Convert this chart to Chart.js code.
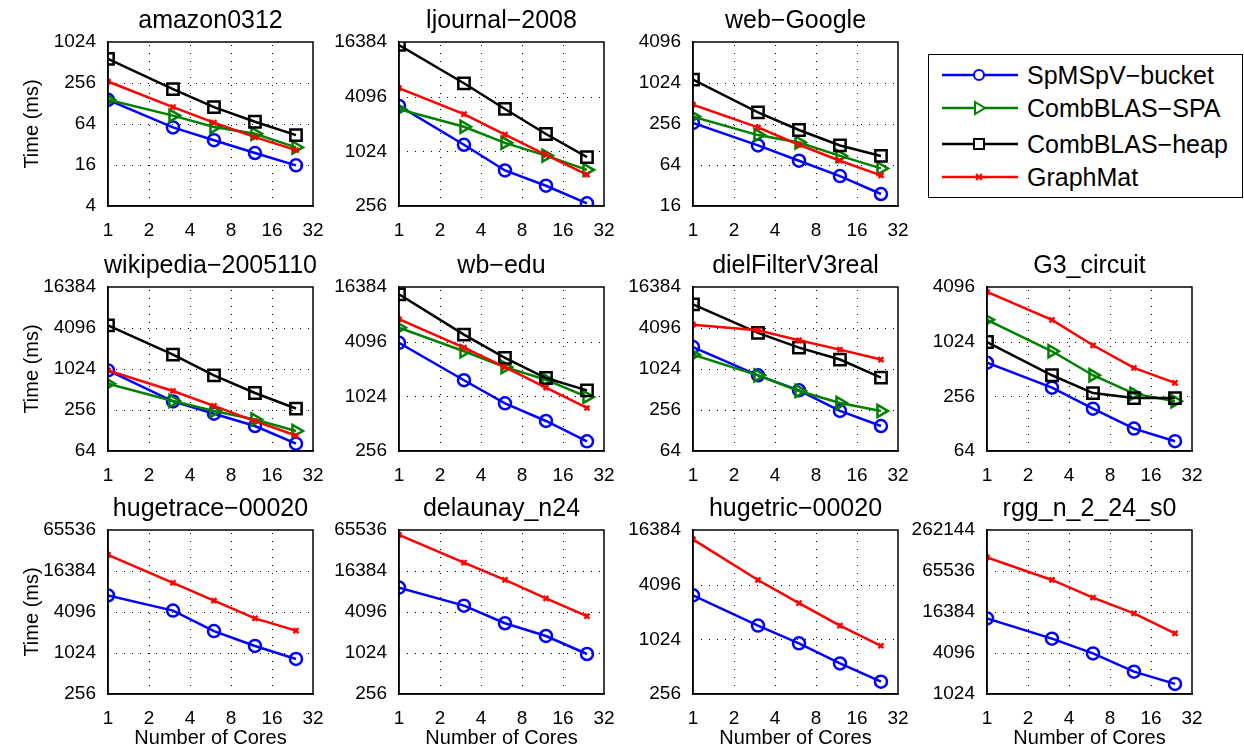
<!DOCTYPE html>
<html>
<head>
<meta charset="utf-8">
<script src="https://cdn.jsdelivr.net/npm/chart.js@4.4.0/dist/chart.umd.min.js"></script>
<style>
  body { margin: 0; width: 1244px; height: 749px; overflow: hidden; background: #fff; position: relative;
         font-family: "Liberation Sans", Arial, sans-serif; }
  canvas { position: absolute; }
  #legend { position: absolute; left: 928px; top: 54px; width: 315px; height: 144px;
            border: 1.5px solid #000; box-sizing: border-box; background: #fff; }
  .entry { position: absolute; left: 0; height: 30px; width: 100%; }
  .entry svg { position: absolute; left: 13px; top: 5px; }
  .entry span { position: absolute; left: 98px; top: 0; line-height: 30px; font-size: 25px; color: #000; white-space: nowrap; }
</style>
</head>
<body>
<div id="legend"></div>
<script>
// cores on the x axis and the tick labels
const cores = [1, 3, 6, 12, 24];
const xTicks = [1, 2, 4, 8, 16, 32];

const matrices = ['amazon0312', 'ljournal\u22122008', 'web\u2212Google',
  'wikipedia\u22122005110', 'wb\u2212edu', 'dielFilterV3real', 'G3_circuit',
  'hugetrace\u221200020', 'delaunay_n24', 'hugetric\u221200020', 'rgg_n_2_24_s0'];

const yTicks = [
  [4, 16, 64, 256, 1024],
  [256, 1024, 4096, 16384],
  [16, 64, 256, 1024, 4096],
  [64, 256, 1024, 4096, 16384],
  [256, 1024, 4096, 16384],
  [64, 256, 1024, 4096, 16384],
  [64, 256, 1024, 4096],
  [256, 1024, 4096, 16384, 65536],
  [256, 1024, 4096, 16384, 65536],
  [256, 1024, 4096, 16384],
  [1024, 4096, 16384, 65536, 262144]
];

// time in ms, one row per matrix
const spmspvBucket = [
  [145, 57, 37, 24, 15.8],
  [3240, 1210, 630, 428, 274],
  [265, 124, 74, 44, 24],
  [975, 342, 226, 149, 82],
  [3980, 1540, 857, 548, 327],
  [2150, 826, 498, 248, 149],
  [600, 319, 187, 113, 82],
  [7180, 4300, 2150, 1300, 837],
  [9340, 5080, 2800, 1820, 990],
  [3130, 1450, 925, 555, 350],
  [13200, 6650, 4040, 2180, 1440]
];
const combblasSpa = [
  [145, 85, 58, 46, 29],
  [2980, 1910, 1270, 918, 640],
  [329, 176, 137, 87, 57],
  [622, 347, 248, 186, 126],
  [5840, 3210, 2150, 1560, 1010],
  [1660, 826, 487, 324, 248],
  [1780, 803, 437, 274, 226],
  null, null, null, null
];
const combblasHeap = [
  [580, 208, 113, 69, 44],
  [15200, 5750, 3000, 1590, 886],
  [1150, 380, 209, 124, 87],
  [4480, 1660, 826, 455, 269],
  [13600, 4900, 2720, 1630, 1190],
  [9110, 3470, 2110, 1410, 766],
  [1015, 437, 278, 245, 245],
  null, null, null, null
];
const graphMat = [
  [269, 113, 67, 41, 26.5],
  [5080, 2630, 1560, 936, 568],
  [494, 229, 127, 74, 45],
  [975, 487, 294, 176, 108],
  [7230, 3520, 2150, 1280, 762],
  [4580, 3800, 2700, 1970, 1410],
  [3610, 1780, 934, 526, 360],
  [28200, 11000, 6000, 3300, 2180],
  [55400, 21800, 12100, 6500, 3570],
  [12900, 4610, 2560, 1450, 870],
  [104000, 48400, 26600, 15600, 7950]
];

const series = [
  { label: 'SpMSpV\u2212bucket', data: spmspvBucket, color: '#0000ff', style: 'circle', r: 6, rot: 0, order: 3 },
  { label: 'CombBLAS\u2212SPA', data: combblasSpa, color: '#008000', style: 'triangle', r: 7, rot: 90, order: 2 },
  { label: 'CombBLAS\u2212heap', data: combblasHeap, color: '#000000', style: 'rect', r: 8, rot: 0, order: 1 },
  { label: 'GraphMat', data: graphMat, color: '#ff0000', style: 'crossRot', r: 3.5, rot: 0, order: 0 }
];

// grid placement
const cells = [[0,0],[0,1],[0,2],[1,0],[1,1],[1,2],[1,3],[2,0],[2,1],[2,2],[2,3]];
const colLeft = [108, 399, 693, 987];
const rowTop = [42, 287, 530];
const plotW = 205, plotH = 164;
const padL = 100, padT = 45, padR = 25, padB = 60;

const font = { family: '"Liberation Sans", Arial, sans-serif', size: 19 };
const labelFont = { family: '"Liberation Sans", Arial, sans-serif', size: 20 };

function makePanel(i) {
  const [row, col] = cells[i];
  const cv = document.createElement('canvas');
  const w = padL + plotW + padR, h = padT + plotH + padB;
  cv.width = w; cv.height = h;
  cv.style.left = (colLeft[col] - padL) + 'px';
  cv.style.top = (rowTop[row] - padT) + 'px';
  cv.style.width = w + 'px'; cv.style.height = h + 'px';
  document.body.appendChild(cv);

  const datasets = series.filter(s => s.data[i]).map(s => ({
    label: s.label,
    data: cores.map((c, k) => ({ x: c, y: s.data[i][k] })),
    borderColor: s.color,
    backgroundColor: 'rgba(0,0,0,0)',
    borderWidth: 2.5,
    pointStyle: s.style,
    pointRadius: s.r,
    pointRotation: s.rot,
    pointBorderWidth: s.style === 'crossRot' ? 2.5 : 2.5,
    pointBorderColor: s.color,
    pointBackgroundColor: 'rgba(0,0,0,0)',
    tension: 0,
    order: s.order
  }));

  const ticks = yTicks[i];
  const title = matrices[i];

  new Chart(cv, {
    type: 'line',
    data: { datasets },
    options: {
      responsive: false,
      animation: false,
      events: [],
      layout: { padding: { left: 0, top: padT, right: padR, bottom: 0 } },
      plugins: { legend: { display: false }, tooltip: { enabled: false }, title: { display: false } },
      scales: {
        x: {
          type: 'logarithmic', min: 1, max: 32,
          afterBuildTicks: s => { s.ticks = xTicks.map(v => ({ value: v })); },
          afterFit: s => { s.height = padB; },
          ticks: { color: '#000', font, padding: 5, maxRotation: 0, autoSkip: false, callback: v => String(v) },
          grid: { display: false },
          border: { display: true, color: '#000', width: 1.5 },
          title: { display: row === 2, text: 'Number of Cores', color: '#000', font: labelFont, padding: { top: 0, bottom: 4 } }
        },
        y: {
          type: 'logarithmic', min: ticks[0], max: ticks[ticks.length - 1],
          afterBuildTicks: s => { s.ticks = ticks.map(v => ({ value: v })); },
          afterFit: s => { s.width = padL; },
          ticks: { color: '#000', font, padding: 4, autoSkip: false, callback: v => String(v) },
          grid: { display: false },
          border: { display: true, color: '#000', width: 1.5 },
          title: { display: col === 0, text: 'Time (ms)', color: '#000', font: labelFont, padding: { top: 12, bottom: 0 } }
        }
      }
    },
    plugins: [{
      id: 'box',
      beforeDatasetsDraw(chart) {
        // MATLAB-style dotted grid inside the box
        const a = chart.chartArea, c = chart.ctx;
        c.save();
        c.strokeStyle = '#000'; c.lineWidth = 1; c.setLineDash([1, 7]);
        chart.scales.x.ticks.forEach(t => {
          const px = Math.round(chart.scales.x.getPixelForValue(t.value)) + 0.5;
          if (px > a.left + 2 && px < a.right - 2) { c.beginPath(); c.moveTo(px, a.bottom); c.lineTo(px, a.top); c.stroke(); }
        });
        chart.scales.y.ticks.forEach(t => {
          const py = Math.round(chart.scales.y.getPixelForValue(t.value)) + 0.5;
          if (py > a.top + 2 && py < a.bottom - 2) { c.beginPath(); c.moveTo(a.left, py); c.lineTo(a.right, py); c.stroke(); }
        });
        c.restore();
      },
      afterDraw(chart) {
        const a = chart.chartArea, c = chart.ctx;
        c.save();
        c.strokeStyle = '#000'; c.lineWidth = 1.5; c.setLineDash([]);
        c.strokeRect(a.left, a.top, a.right - a.left, a.bottom - a.top);
        c.fillStyle = '#000';
        c.font = '25px "Liberation Sans", Arial, sans-serif';
        c.textAlign = 'center'; c.textBaseline = 'alphabetic';
        c.fillText(title, (a.left + a.right) / 2, a.top - 14);
        c.restore();
      }
    }]
  });
}

matrices.forEach((m, i) => makePanel(i));

// legend box
const legend = document.getElementById('legend');
const entryY = [20, 53, 89, 122];
series.forEach((s, k) => {
  const d = document.createElement('div');
  d.className = 'entry';
  d.style.top = (entryY[k] - 15) + 'px';
  let mark = '';
  if (s.style === 'circle') mark = `<circle cx="37" cy="10" r="5" fill="#fff" stroke="${s.color}" stroke-width="2"/>`;
  if (s.style === 'triangle') mark = `<polygon points="33,4 43,10 33,16" fill="#fff" stroke="${s.color}" stroke-width="2"/>`;
  if (s.style === 'rect') mark = `<rect x="32" y="5" width="10" height="10" fill="#fff" stroke="${s.color}" stroke-width="2"/>`;
  if (s.style === 'crossRot') mark = `<path d="M34,7 L40,13 M40,7 L34,13" stroke="${s.color}" stroke-width="2"/>`;
  d.innerHTML = `<svg width="76" height="20"><line x1="0" y1="10" x2="76" y2="10" stroke="${s.color}" stroke-width="2.5"/>${mark}</svg><span>${s.label}</span>`;
  legend.appendChild(d);
});
</script>
</body>
</html>
